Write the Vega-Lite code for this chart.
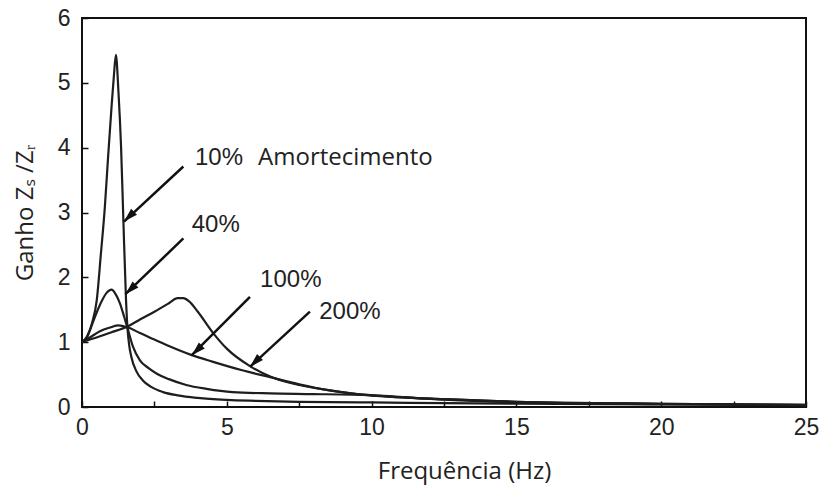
{
  "$schema": "https://vega.github.io/schema/vega-lite/v6.json",
  "width": 724,
  "height": 389,
  "autosize": {"type": "none"},
  "padding": {"left": 82, "top": 18, "right": 16, "bottom": 79},
  "background": "white",
  "config": {
    "view": {"stroke": "#111", "strokeWidth": 2},
    "axis": {"grid": false, "domain": false, "labelFlush": false, "tickColor": "#111", "tickWidth": 1.5, "tickSize": -6, "labelFont": "Liberation Sans", "labelFontSize": 23, "labelColor": "#222", "titleFont": "Open Sans", "titleFontWeight": "normal", "titleFontSize": 24, "titleColor": "#222"}
  },
  "datasets": {
    "curves": [
      {"s": "10%", "f": 0, "g": 1}, {"s": "10%", "f": 0.2, "g": 1.1}, {"s": "10%", "f": 0.35, "g": 1.3}, {"s": "10%", "f": 0.51, "g": 1.65}, {"s": "10%", "f": 0.65, "g": 2.35}, {"s": "10%", "f": 0.79, "g": 3.09}, {"s": "10%", "f": 0.9, "g": 3.85}, {"s": "10%", "f": 1.02, "g": 4.63}, {"s": "10%", "f": 1.1, "g": 5.1}, {"s": "10%", "f": 1.17, "g": 5.43}, {"s": "10%", "f": 1.26, "g": 4.85}, {"s": "10%", "f": 1.35, "g": 4.0}, {"s": "10%", "f": 1.43, "g": 2.86}, {"s": "10%", "f": 1.52, "g": 1.65}, {"s": "10%", "f": 1.57, "g": 1.22}, {"s": "10%", "f": 1.63, "g": 0.95}, {"s": "10%", "f": 1.7, "g": 0.78}, {"s": "10%", "f": 1.88, "g": 0.55}, {"s": "10%", "f": 2.1, "g": 0.41}, {"s": "10%", "f": 2.39, "g": 0.31}, {"s": "10%", "f": 2.8, "g": 0.23}, {"s": "10%", "f": 3.3, "g": 0.18}, {"s": "10%", "f": 4, "g": 0.14}, {"s": "10%", "f": 5, "g": 0.11}, {"s": "10%", "f": 6, "g": 0.095}, {"s": "10%", "f": 7.5, "g": 0.08}, {"s": "10%", "f": 10, "g": 0.07}, {"s": "10%", "f": 12.5, "g": 0.06}, {"s": "10%", "f": 15, "g": 0.05}, {"s": "10%", "f": 20, "g": 0.04}, {"s": "10%", "f": 25, "g": 0.03},
      {"s": "40%", "f": 0, "g": 1}, {"s": "40%", "f": 0.15, "g": 1.07}, {"s": "40%", "f": 0.32, "g": 1.24}, {"s": "40%", "f": 0.5, "g": 1.45}, {"s": "40%", "f": 0.7, "g": 1.65}, {"s": "40%", "f": 0.85, "g": 1.76}, {"s": "40%", "f": 1.02, "g": 1.81}, {"s": "40%", "f": 1.15, "g": 1.75}, {"s": "40%", "f": 1.31, "g": 1.6}, {"s": "40%", "f": 1.45, "g": 1.4}, {"s": "40%", "f": 1.57, "g": 1.22}, {"s": "40%", "f": 1.76, "g": 0.93}, {"s": "40%", "f": 2.0, "g": 0.72}, {"s": "40%", "f": 2.3, "g": 0.6}, {"s": "40%", "f": 2.6, "g": 0.51}, {"s": "40%", "f": 3.0, "g": 0.43}, {"s": "40%", "f": 3.6, "g": 0.34}, {"s": "40%", "f": 4.3, "g": 0.28}, {"s": "40%", "f": 5.2, "g": 0.23}, {"s": "40%", "f": 6.5, "g": 0.21}, {"s": "40%", "f": 8, "g": 0.2}, {"s": "40%", "f": 10, "g": 0.18}, {"s": "40%", "f": 12.5, "g": 0.115}, {"s": "40%", "f": 15, "g": 0.075}, {"s": "40%", "f": 20, "g": 0.045}, {"s": "40%", "f": 25, "g": 0.03},
      {"s": "100%", "f": 0, "g": 1}, {"s": "100%", "f": 0.3, "g": 1.08}, {"s": "100%", "f": 0.62, "g": 1.17}, {"s": "100%", "f": 1.0, "g": 1.23}, {"s": "100%", "f": 1.25, "g": 1.26}, {"s": "100%", "f": 1.57, "g": 1.23}, {"s": "100%", "f": 2, "g": 1.14}, {"s": "100%", "f": 2.5, "g": 1.04}, {"s": "100%", "f": 3, "g": 0.94}, {"s": "100%", "f": 3.79, "g": 0.8}, {"s": "100%", "f": 4.5, "g": 0.7}, {"s": "100%", "f": 5.5, "g": 0.57}, {"s": "100%", "f": 6.5, "g": 0.46}, {"s": "100%", "f": 7.5, "g": 0.35}, {"s": "100%", "f": 8.5, "g": 0.26}, {"s": "100%", "f": 9.5, "g": 0.2}, {"s": "100%", "f": 10, "g": 0.18}, {"s": "100%", "f": 12.5, "g": 0.12}, {"s": "100%", "f": 15, "g": 0.08}, {"s": "100%", "f": 20, "g": 0.05}, {"s": "100%", "f": 25, "g": 0.035},
      {"s": "200%", "f": 0, "g": 1}, {"s": "200%", "f": 0.62, "g": 1.09}, {"s": "200%", "f": 1.0, "g": 1.15}, {"s": "200%", "f": 1.57, "g": 1.24}, {"s": "200%", "f": 2, "g": 1.35}, {"s": "200%", "f": 2.5, "g": 1.47}, {"s": "200%", "f": 3, "g": 1.6}, {"s": "200%", "f": 3.3, "g": 1.68}, {"s": "200%", "f": 3.5, "g": 1.68}, {"s": "200%", "f": 3.7, "g": 1.63}, {"s": "200%", "f": 4.0, "g": 1.47}, {"s": "200%", "f": 4.53, "g": 1.14}, {"s": "200%", "f": 5, "g": 0.9}, {"s": "200%", "f": 5.8, "g": 0.63}, {"s": "200%", "f": 6.5, "g": 0.47}, {"s": "200%", "f": 7.2, "g": 0.37}, {"s": "200%", "f": 7.5, "g": 0.34}, {"s": "200%", "f": 8.5, "g": 0.26}, {"s": "200%", "f": 9.5, "g": 0.2}, {"s": "200%", "f": 10, "g": 0.18}, {"s": "200%", "f": 12.5, "g": 0.12}, {"s": "200%", "f": 15, "g": 0.08}, {"s": "200%", "f": 20, "g": 0.05}, {"s": "200%", "f": 25, "g": 0.035}
    ],
    "arrows": [
      {"label": "10%", "x1": 3.5, "y1": 3.71, "x2": 1.45, "y2": 2.86},
      {"label": "40%", "x1": 3.5, "y1": 2.6, "x2": 1.5, "y2": 1.74},
      {"label": "100%", "x1": 5.8, "y1": 1.7, "x2": 3.79, "y2": 0.8},
      {"label": "200%", "x1": 7.87, "y1": 1.47, "x2": 5.8, "y2": 0.62}
    ],
    "labels": [
      {"text": "10%", "x": 3.9, "y": 3.84},
      {"text": "40%", "x": 3.79, "y": 2.81},
      {"text": "100%", "x": 6.15, "y": 1.96},
      {"text": "200%", "x": 8.19, "y": 1.47}
    ],
    "notes": [
      {"text": "Amortecimento", "x": 6.08, "y": 3.84}
    ]
  },
  "layer": [
    {
      "data": {"name": "curves"},
      "mark": {"type": "line", "interpolate": "monotone", "color": "#1e1e1e", "strokeWidth": 2.2},
      "encoding": {
        "x": {"field": "f", "type": "quantitative", "scale": {"domain": [0, 25], "nice": false}, "axis": {"values": [0, 2.5, 5, 7.5, 10, 12.5, 15, 17.5, 20, 22.5, 25], "format": "~g", "labelExpr": "datum.value % 5 === 0 ? datum.label : ''", "labelPadding": 15, "title": "Frequência (Hz)", "titleBaseline": "middle", "titleX": 382, "titleY": 64}},
        "y": {"field": "g", "type": "quantitative", "scale": {"domain": [0, 6], "nice": false}, "axis": {"values": [0, 0.5, 1, 1.5, 2, 2.5, 3, 3.5, 4, 4.5, 5, 5.5, 6], "format": "~g", "labelExpr": "datum.value % 1 === 0 ? datum.label : ''", "labelPadding": 18, "title": "Ganho Zₛ /Zᵣ", "titlePadding": 20}},
        "detail": {"field": "s"}
      }
    },
    {
      "data": {"name": "arrows"},
      "mark": {"type": "rule", "color": "#111", "strokeWidth": 2.5},
      "encoding": {
        "x": {"field": "x1", "type": "quantitative"},
        "y": {"field": "y1", "type": "quantitative"},
        "x2": {"field": "x2"},
        "y2": {"field": "y2"}
      }
    },
    {
      "data": {"name": "arrows"},
      "mark": {"type": "point", "shape": "M0,0L-0.6,2L0.6,2Z", "filled": true, "color": "#111", "opacity": 1, "size": 196, "angle": 226},
      "encoding": {
        "x": {"field": "x2", "type": "quantitative"},
        "y": {"field": "y2", "type": "quantitative"}
      }
    },
    {
      "data": {"name": "labels"},
      "mark": {"type": "text", "align": "left", "baseline": "middle", "font": "Liberation Sans", "fontSize": 24, "color": "#222"},
      "encoding": {
        "x": {"field": "x", "type": "quantitative"},
        "y": {"field": "y", "type": "quantitative"},
        "text": {"field": "text"}
      }
    },
    {
      "data": {"name": "notes"},
      "mark": {"type": "text", "align": "left", "baseline": "middle", "font": "Open Sans", "fontSize": 24, "color": "#222"},
      "encoding": {
        "x": {"field": "x", "type": "quantitative"},
        "y": {"field": "y", "type": "quantitative"},
        "text": {"field": "text"}
      }
    }
  ]
}
